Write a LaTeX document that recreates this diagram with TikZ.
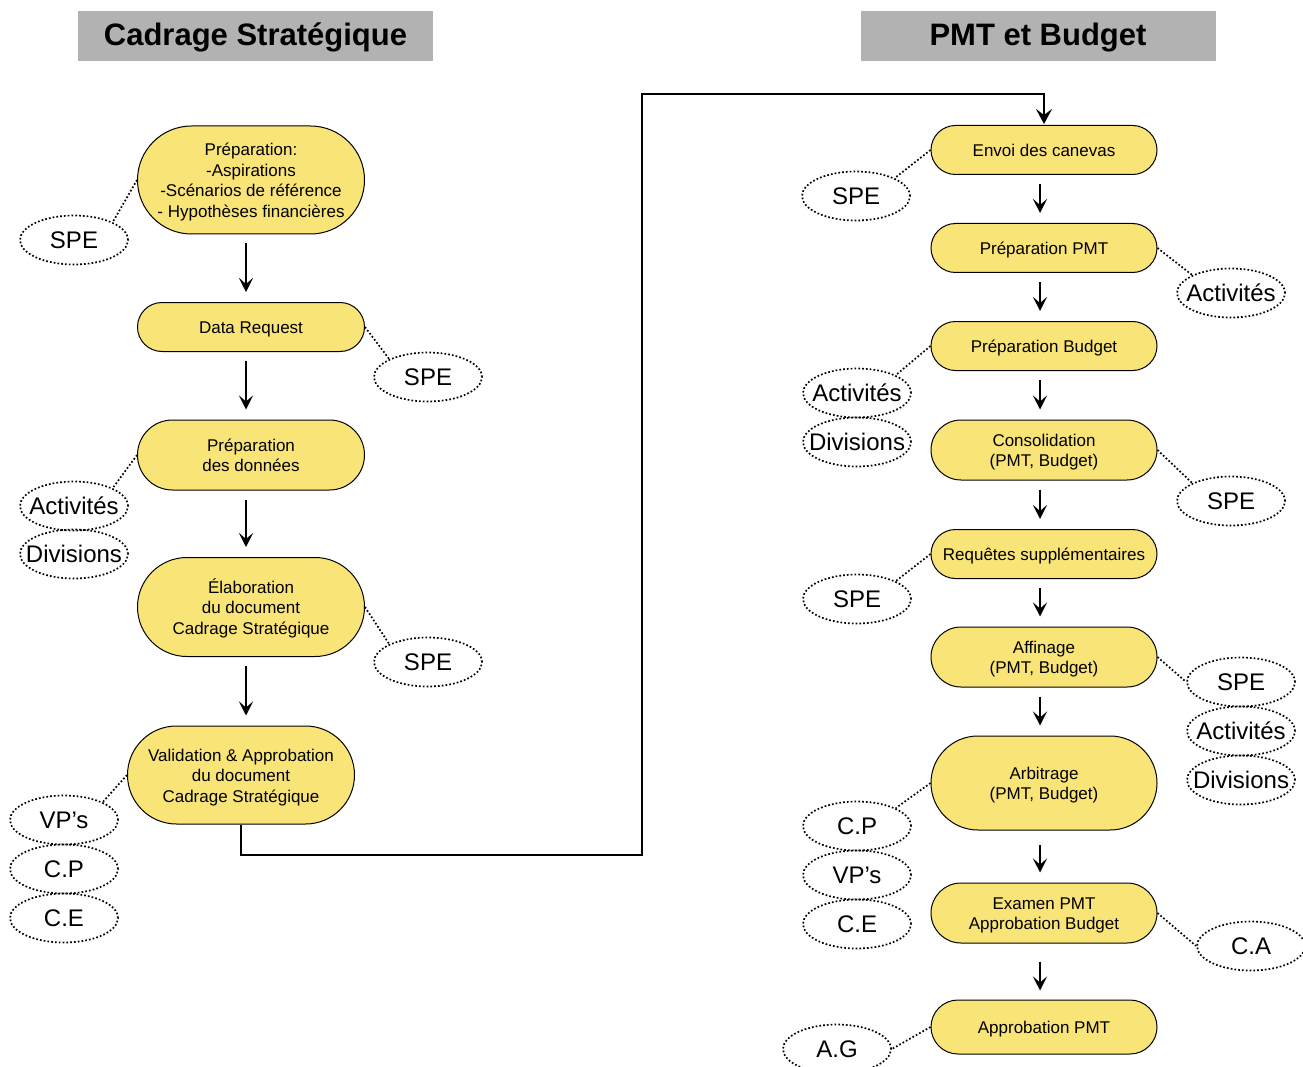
\documentclass[tikz,border=0pt]{standalone}
\usepackage{fontspec}
\setmainfont{Liberation Sans}
\usetikzlibrary{shapes.misc,shapes.geometric,arrows.meta}
\definecolor{stepyellow}{RGB}{249,228,120}
\definecolor{titlegray}{RGB}{178,178,178}
% actor names may run over the outline of their oval
\newcommand{\actorname}[1]{\makebox[0pt][c]{#1}}
% fixed ascent of the first line and descent of the last line of a step
\newcommand{\nodetopstrut}{\rule{0pt}{17pt}}
\newcommand{\nodebotstrut}{\rule[-3.6pt]{0pt}{0pt}}
\begin{document}
\begin{tikzpicture}[x=1pt,y=-1pt,
  stepbox/.style={rounded rectangle, draw=black, line width=1pt, fill=stepyellow,
    inner sep=0pt, align=center, font=\fontsize{17}{20.5}\selectfont},
  lbox/.style={stepbox, minimum width=227pt},
  rbox/.style={stepbox, minimum width=226pt},
  actor/.style={ellipse, draw=black, line width=1.7pt, dash pattern=on 1.7pt off 2.1pt,
    minimum width=108pt, minimum height=49pt, inner sep=0pt,
    font=\fontsize{24}{28}\selectfont},
  link/.style={line width=1.7pt, dash pattern=on 1.7pt off 2.1pt},
  flow/.style={line width=2pt, -{Stealth[length=14pt,width=14pt,inset=6pt]},
    shorten <=9pt, shorten >=10pt},
  bigflow/.style={line width=2.5pt, -{Stealth[length=15pt,width=16pt,inset=6pt]},
    shorten >=1pt},
  titlebox/.style={fill=titlegray, minimum width=355pt, minimum height=50pt,
    inner sep=0pt, text height=27pt, text depth=7pt,
    font=\fontsize{31}{36}\selectfont\bfseries}]

\useasboundingbox (0,0) rectangle (1303,1067);

% ---------- titles ----------
\node[titlebox] (t1) at (255.5,36) {Cadrage Stratégique};
\node[titlebox] (t2) at (1038,36) {PMT et Budget};

% ---------- left column : Cadrage Stratégique ----------
\node[lbox, minimum height=108pt] (prep) at (251,180)
  {\nodetopstrut Préparation:\\-Aspirations\\-Scénarios de référence\\- Hypothèses financières\nodebotstrut};
\node[lbox, minimum height=49pt] (dr) at (251,327) {\nodetopstrut Data Request\nodebotstrut};
\node[lbox, minimum height=70pt] (pdd) at (251,455)
  {\nodetopstrut Préparation\\des données\nodebotstrut};
\node[lbox, minimum height=99pt] (elab) at (251,607)
  {\nodetopstrut Élaboration\\du document\\Cadrage Stratégique\nodebotstrut};
\node[lbox, minimum height=98pt] (valid) at (241,775)
  {\nodetopstrut Validation \& Approbation\\du document\\Cadrage Stratégique\nodebotstrut};

\node[actor] (a1) at (74,240) {\actorname{SPE}};
\node[actor] (a2) at (428,377) {\actorname{SPE}};
\node[actor] (a3) at (74,506) {\actorname{Activités}};
\node[actor] (a4) at (74,554) {\actorname{Divisions}};
\node[actor] (a5) at (428,662) {\actorname{SPE}};
\node[actor] (a6) at (64,820) {\actorname{VP’s}};
\node[actor] (a7) at (64,869) {\actorname{C.P}};
\node[actor] (a8) at (64,918) {\actorname{C.E}};

\draw[link] (prep.west) -- (a1.north east);
\draw[link] (dr.east) -- (a2.north west);
\draw[link] (pdd.west) -- (a3.north east);
\draw[link] (elab.east) -- (a5.north west);
\draw[link] (valid.west) -- (a6.north east);

\draw[flow] ([xshift=-5pt]prep.south) -- ([xshift=-5pt]dr.north);
\draw[flow] ([xshift=-5pt]dr.south) -- ([xshift=-5pt]pdd.north);
\draw[flow] ([xshift=-5pt]pdd.south) -- ([xshift=-5pt]elab.north);
\draw[flow] ([xshift=-5pt]elab.south) -- ([xshift=5pt]valid.north);

% ---------- right column : PMT et Budget ----------
\node[rbox, minimum height=49pt] (envoi) at (1044,150) {\nodetopstrut Envoi des canevas\nodebotstrut};
\node[rbox, minimum height=49pt] (ppmt) at (1044,248) {\nodetopstrut Préparation PMT\nodebotstrut};
\node[rbox, minimum height=49pt] (pbud) at (1044,346) {\nodetopstrut Préparation Budget\nodebotstrut};
\node[rbox, minimum height=60pt] (cons) at (1044,450)
  {\nodetopstrut Consolidation\\(PMT, Budget)\nodebotstrut};
\node[rbox, minimum height=49pt] (req) at (1044,554)
  {\nodetopstrut Requêtes supplémentaires\nodebotstrut};
\node[rbox, minimum height=60pt] (aff) at (1044,657)
  {\nodetopstrut Affinage\\(PMT, Budget)\nodebotstrut};
\node[rbox, minimum height=94pt] (arb) at (1044,783)
  {\nodetopstrut Arbitrage\\(PMT, Budget)\nodebotstrut};
\node[rbox, minimum height=60pt] (exam) at (1044,913)
  {\nodetopstrut Examen PMT\\Approbation Budget\nodebotstrut};
\node[rbox, minimum height=54pt] (appr) at (1044,1027) {\nodetopstrut Approbation PMT\nodebotstrut};

\node[actor] (b1) at (856,196) {\actorname{SPE}};
\node[actor] (b2) at (1231,293) {\actorname{Activités}};
\node[actor] (b3) at (857,393) {\actorname{Activités}};
\node[actor] (b4) at (857,442) {\actorname{Divisions}};
\node[actor] (b5) at (1231,501) {\actorname{SPE}};
\node[actor] (b6) at (857,599) {\actorname{SPE}};
\node[actor] (b7) at (1241,682) {\actorname{SPE}};
\node[actor] (b8) at (1241,731) {\actorname{Activités}};
\node[actor] (b9) at (1241,780) {\actorname{Divisions}};
\node[actor] (b10) at (857,826) {\actorname{C.P}};
\node[actor] (b11) at (857,875) {\actorname{VP’s}};
\node[actor] (b12) at (857,924) {\actorname{C.E}};
\node[actor] (b13) at (1251,946) {\actorname{C.A}};
\node[actor] (b14) at (837,1049) {\actorname{A.G}};

\draw[link] (envoi.west) -- (b1.north east);
\draw[link] (ppmt.east) -- (b2.north west);
\draw[link] (pbud.west) -- (b3.north east);
\draw[link] (cons.east) -- (b5.north west);
\draw[link] (req.west) -- (b6.north east);
\draw[link] (aff.east) -- (b7.west);
\draw[link] (arb.west) -- (b10.north east);
\draw[link] (exam.east) -- (b13.west);
\draw[link] (appr.west) -- (b14.east);

\draw[flow] ([xshift=-4pt]envoi.south) -- ([xshift=-4pt]ppmt.north);
\draw[flow] ([xshift=-4pt]ppmt.south) -- ([xshift=-4pt]pbud.north);
\draw[flow] ([xshift=-4pt]pbud.south) -- ([xshift=-4pt]cons.north);
\draw[flow] ([xshift=-4pt]cons.south) -- ([xshift=-4pt]req.north);
\draw[flow] ([xshift=-4pt]req.south) -- ([xshift=-4pt]aff.north);
\draw[flow] ([xshift=-4pt]aff.south) -- ([xshift=-4pt]arb.north);
\draw[flow, shorten <=14pt] ([xshift=-4pt]arb.south) -- ([xshift=-4pt]exam.north);
\draw[flow, shorten <=18pt, shorten >=9pt] ([xshift=-4pt]exam.south) -- ([xshift=-4pt]appr.north);

% ---------- link between the two phases ----------
\coordinate (c1) at (642,855);
\coordinate (c2) at (642,94);
\draw[bigflow] (valid.south) |- (c1) -- (c2) -| (envoi.north);

\end{tikzpicture}
\end{document}
